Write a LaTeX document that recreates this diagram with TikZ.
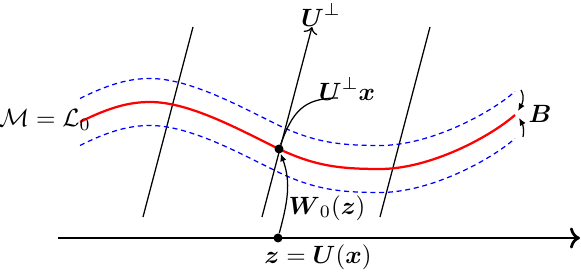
\documentclass[tikz,border=0pt]{standalone}
\usepackage{amsmath, amssymb}
\usepackage{tikz}
\usetikzlibrary{arrows.meta, positioning, calc}
\usepackage{xcolor}
\definecolor{mfd}{HTML}{FF0000}
\definecolor{band}{HTML}{0000FF}
\newcommand{\mfdcurve}{(80,150) .. controls (110,165) and (130,170) .. (150,170)
  .. controls (190,170) and (240,142) .. (279,123)
  .. controls (315,106) and (340,103) .. (380,103)
  .. controls (430,103) and (490,135) .. (515,157)}

\begin{document}
\begin{tikzpicture}[x=0.4pt, y=0.4pt,
      dot/.style={circle, fill=black, minimum size=3.6pt, inner sep=0pt},
      fibre/.style={line width=0.5pt},
      tube/.style={band, line width=0.5pt, dash pattern=on 2pt off 1.5pt},
      pt/.style={-{Latex[length=3pt,width=2.6pt]}, line width=0.5pt}]
  \useasboundingbox (0,0) rectangle (581,272);
  % fibres U^perp
  \foreach \x in {143,380} \draw[fibre] (\x,55) -- ++(50,190);
  \coordinate (fb) at (262,55);
  \coordinate (ft) at (312,245);
  \draw[fibre, ->] (fb) -- (ft);
  \node (uperp) at (321,257) {$\boldsymbol{U}^{\perp}$};
  % manifold and tube
  \foreach \s in {-23.5,23.5} \draw[tube, shift={(0,\s)}] \mfdcurve;
  \draw[mfd, line width=0.9pt] \mfdcurve;
  \coordinate (rend) at (515,157);
  \node (mlbl) at (45,152) {$\mathcal{M}=\mathcal{L}_0$};
  % axis
  \coordinate (axl) at (58,34);
  \coordinate (axr) at (580,34);
  \draw[line width=1.1pt, ->] (axl) -- (axr);
  \node[dot] (z) at (278,34) {};
  \node[dot] (p) at (279,123) {};
  \node (zlbl) at (318,15) {$\boldsymbol{z}=\boldsymbol{U}(\boldsymbol{x})$};
  \node (wlbl) at (327,64) {$\boldsymbol{W}_0(\boldsymbol{z})$};
  \draw[pt] (z) to[out=75, in=-70] (p);
  % U^perp x
  \node (uxlbl) at (347,183) {$\boldsymbol{U}^{\perp}\boldsymbol{x}$};
  \coordinate (uxend) at (338,174);
  \draw[fibre] (p) to[out=70, in=180, looseness=1.2] (uxend);
  % width B
  \node (blbl) at (540,158) {$\boldsymbol{B}$};
  \coordinate (btop) at (521,182);
  \coordinate (bbot) at (523,135);
  \draw[pt] (btop) to[out=-60, in=60] ($(rend)+(3,4)$);
  \draw[pt] (bbot) to[out=80, in=-60] ($(rend)+(4,-3)$);
\end{tikzpicture}
\end{document}
